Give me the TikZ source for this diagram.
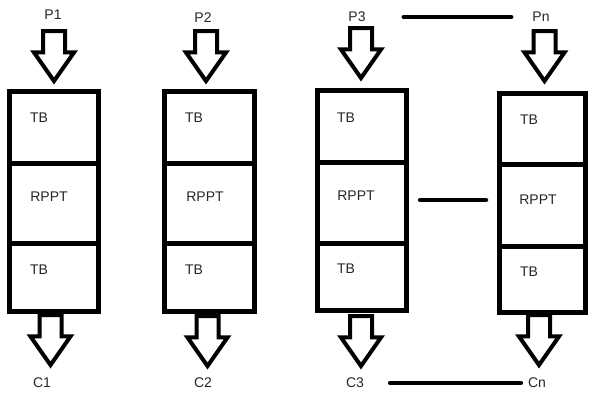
\documentclass[tikz,border=0pt]{standalone}
\usepackage{fontspec}
\setmainfont{Liberation Sans}
\usetikzlibrary{shapes.arrows}

\begin{document}
\begin{tikzpicture}[x=1pt,y=-1pt,
	cell/.style = {draw, line width=5pt, inner sep=0pt},
	fat/.style = {single arrow, draw, fill=white, line width=4pt, shape border rotate=270, inner sep=9pt, single arrow head extend=9pt, single arrow tip angle=70, minimum height=50pt, anchor=tip},
	lbl/.style = {font=\fontsize{14}{16}\selectfont, text=black!85, inner sep=2pt},
	link/.style = {line width=4.5pt, line cap=round}]
	\useasboundingbox (0,0) rectangle (589,394);
	% stack 1
	\node[cell, minimum width=89pt, minimum height=71.5pt] (t1) at (54,127.25) {};
	\node[cell, minimum width=89pt, minimum height=80pt] (m1) at (54,203) {};
	\node[cell, minimum width=89pt, minimum height=68.5pt] (b1) at (54,277.25) {};
	\node[lbl] (tb1) at (39,118) {TB};
	\node[lbl] (rp1) at (49,197) {RPPT};
	\node[lbl] (tbb1) at (39,270) {TB};
	% stack 2
	\node[cell, minimum width=90pt, minimum height=71.5pt] (t2) at (209.5,127.25) {};
	\node[cell, minimum width=90pt, minimum height=80pt] (m2) at (209.5,203) {};
	\node[cell, minimum width=90pt, minimum height=68.5pt] (b2) at (209.5,277.25) {};
	\node[lbl] (tb2) at (194,118) {TB};
	\node[lbl] (rp2) at (205,197) {RPPT};
	\node[lbl] (tbb2) at (194,270) {TB};
	% stack 3
	\node[cell, minimum width=89pt, minimum height=71.5pt] (t3) at (362,126.25) {};
	\node[cell, minimum width=89pt, minimum height=81pt] (m3) at (362,202.5) {};
	\node[cell, minimum width=89pt, minimum height=67.5pt] (b3) at (362,276.75) {};
	\node[lbl] (tb3) at (346,118) {TB};
	\node[lbl] (rp3) at (356,196) {RPPT};
	\node[lbl] (tbb3) at (346,269) {TB};
	% stack n
	\node[cell, minimum width=86pt, minimum height=70.5pt] (tn) at (542.5,128.75) {};
	\node[cell, minimum width=86pt, minimum height=82pt] (mn) at (542.5,205) {};
	\node[cell, minimum width=86pt, minimum height=66.5pt] (bn) at (542.5,279.25) {};
	\node[lbl] (tbn) at (529,120) {TB};
	\node[lbl] (rpn) at (538,200) {RPPT};
	\node[lbl] (tbbn) at (529,272) {TB};
	% in and out
	\node[lbl] (p1) at (53,15) {P1};
	\node[lbl] (p2) at (203,18) {P2};
	\node[lbl] (p3) at (357,17) {P3};
	\node[lbl] (pn) at (541,17) {Pn};
	\node[lbl] (c1) at (42,383) {C1};
	\node[lbl] (c2) at (203,383) {C2};
	\node[lbl] (c3) at (355,383) {C3};
	\node[lbl] (cn) at (537,383) {Cn};
	\node[fat] (in1) at (54,84.5) {};
	\node[fat] (in2) at (206,84.5) {};
	\node[fat] (in3) at (361,81.5) {};
	\node[fat] (inn) at (544.5,84.5) {};
	\node[fat] (out1) at (50.5,368.5) {};
	\node[fat] (out2) at (207.5,369.5) {};
	\node[fat] (out3) at (361,369.5) {};
	\node[fat] (outn) at (539,368.5) {};
	% dashes between 3 and n
	\draw[link, shorten <=36pt, shorten >=19pt] (p3.east) -- (pn.west);
	\draw[link, shorten <=11pt, shorten >=11pt] ([yshift=2.5pt]m3.east) -- ([yshift=5pt]mn.west);
	\draw[link, shorten <=24pt, shorten >=5pt] (c3.east) -- (cn.west);
\end{tikzpicture}
\end{document}
